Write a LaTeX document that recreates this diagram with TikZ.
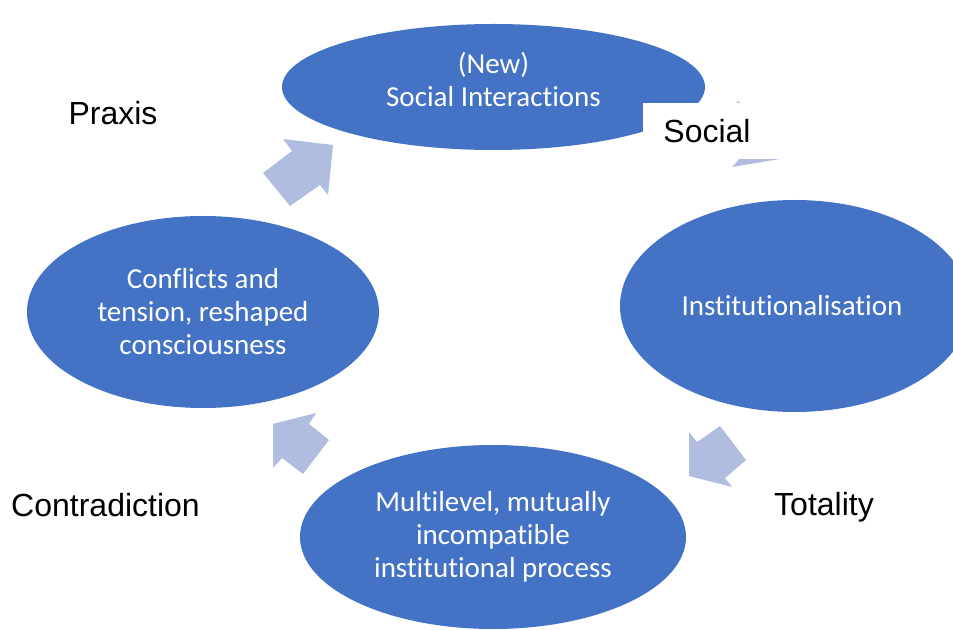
\documentclass[tikz,border=0pt]{standalone}
\usepackage{fontspec}
\setmainfont{Liberation Sans}
\newfontfamily\stagefont[Ligatures=NoCommon]{Carlito}
\usetikzlibrary{shapes.geometric}
\definecolor{cyclefill}{RGB}{68,114,196}
\definecolor{arrowfill}{RGB}{176,189,224}
\begin{document}
\begin{tikzpicture}[x=0.75pt,y=-0.75pt,
  stage/.style={ellipse, fill=cyclefill, inner sep=0pt},
  stagetext/.style={font=\stagefont\fontsize{21.75}{24.75}\selectfont, text=white, align=center, inner sep=0pt},
  blockarrow/.style={fill=arrowfill},
  outerlabel/.style={font=\fontsize{24}{28}\selectfont, inner sep=0pt, anchor=base}]
\useasboundingbox (0,0) rectangle (953,630);

% the four stages of the cycle
\node[stage, minimum width=317.25pt, minimum height=94.5pt] (interact) at (493.5,87) {};
\node[stage, minimum width=262.5pt, minimum height=159pt] (inst) at (795,306) {};
\node[stage, minimum width=289.5pt, minimum height=138pt] (multi) at (493,537) {};
\node[stage, minimum width=264pt, minimum height=144pt] (conflict) at (203,312) {};

\node[stagetext] (interactT) at (493.5,80) {(New)\\Social Interactions};
\node[stagetext] (instT) at (792,306) {Institutionalisation};
\node[stagetext] (multiT) at (493,537) {Multilevel, mutually\\incompatible\\institutional process};
\node[stagetext] (conflictT) at (203,312) {Conflicts and\\tension, reshaped\\consciousness};

% block arrows between the stages
\fill[blockarrow] (283,139) -- (333,145) -- (328,195) -- (320,185) -- (290,206) -- (263,173) -- (292,151) -- cycle;
\fill[blockarrow] (738,101) -- (770,125) -- (782,112) -- (780,159) -- (732,167) -- (742,156) -- (712,133) -- cycle;
\fill[blockarrow] (689,432) -- (697,442) -- (720,426) -- (746,460) -- (725,478) -- (732,487) -- (689,476) -- cycle;
\fill[blockarrow] (273,424) -- (316,413) -- (309,424) -- (329,440) -- (303,474) -- (282,458) -- (273,468) -- cycle;

% outer labels
\node[fill=white, inner sep=0pt, minimum width=106.5pt, minimum height=42pt] (socialbox) at (714,131) {};
\node[outerlabel] (social) at (707,143) {Social};
\node[outerlabel] (praxis) at (113,125) {Praxis};
\node[outerlabel] (contra) at (105.5,517) {Contradiction};
\node[outerlabel] (totality) at (824,516) {Totality};
\end{tikzpicture}
\end{document}
